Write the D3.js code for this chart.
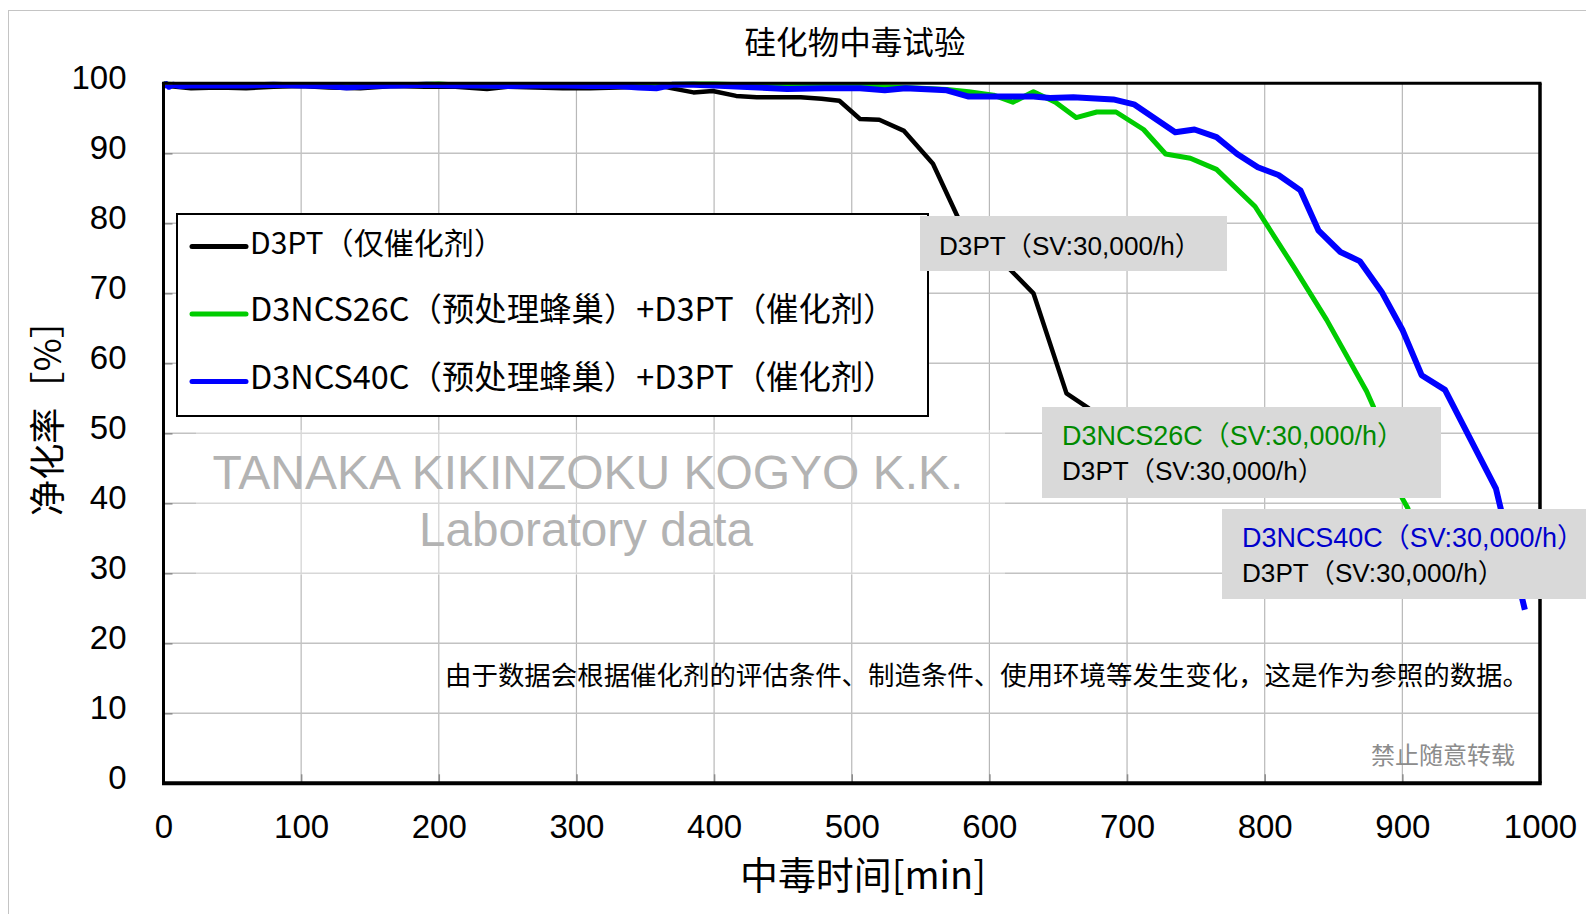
<!DOCTYPE html>
<html>
<head>
<meta charset="utf-8">
<script src="https://cdn.jsdelivr.net/npm/d3@7"></script>
<style>
  html, body { margin: 0; padding: 0; background: #fff; }
  svg { display: block; }
</style>
</head>
<body>
<svg id="chart" width="1586" height="914"></svg>
<script>
// ---------------- DATA ----------------
const chartTitle = "硅化物中毒试验";
const xAxisTitle = "中毒时间[min]";
const yAxisTitle = "净化率［%］";
const xTicks = [0, 100, 200, 300, 400, 500, 600, 700, 800, 900, 1000];
const yTicks = [0, 10, 20, 30, 40, 50, 60, 70, 80, 90, 100];

const seriesNames = [
  "D3PT（仅催化剂）",
  "D3NCS26C（预处理蜂巢）+D3PT（催化剂）",
  "D3NCS40C（预处理蜂巢）+D3PT（催化剂）"
];

// [time(min), purification rate(%)]
const d3ptOnly = [
  [0,99.7],[20,99.3],[40,99.4],[60,99.3],[80,99.5],[100,99.6],[120,99.4],[143,99.3],[167,99.6],
  [190,99.5],[212,99.5],[235,99.2],[250,99.5],[270,99.4],[290,99.3],[310,99.3],[330,99.4],
  [345,99.5],[361,99.6],[385,98.7],[399,98.9],[416,98.2],[431,98.0],[447,98.0],[463,98.0],
  [478,97.8],[491,97.5],[506,94.9],[520,94.8],[538,93.2],[559,88.5],[577,80.9],[595,77.4],
  [613,73.8],[632,70.0],[656,55.7],[672,53.6],[690,50.5],[708,46.5],[722,43.5]
];
const d3ncs26c = [
  [0,99.9],[20,99.7],[40,99.8],[60,99.7],[80,99.8],[100,99.8],[120,99.6],[140,99.8],[160,99.7],
  [180,99.8],[200,99.9],[220,99.7],[240,99.6],[260,99.7],[280,99.8],[300,99.7],[320,99.6],
  [340,99.7],[360,99.8],[385,99.9],[400,99.9],[420,99.8],[450,99.7],[480,99.6],[506,99.6],
  [524,99.5],[540,99.4],[569,99.1],[585,98.8],[603,98.3],[617,97.3],[632,98.8],[648,97.3],
  [663,95.1],[678,95.9],[692,95.9],[712,93.4],[728,89.9],[746,89.3],[765,87.7],[793,82.4],
  [821,73.8],[845,66.2],[874,56.0],[879,53.8],[890,47.0],[900,40.7],[904,39.3],[915,32.0],[925,28.0]
];
const d3ncs40c = [
  [0,99.6],[2,99.9],[4,99.5],[7,99.8],[12,99.6],[20,99.7],[40,99.7],[60,99.7],[80,99.8],[100,99.7],
  [120,99.6],[133,99.4],[150,99.6],[170,99.7],[191,99.8],[210,99.7],[230,99.7],[249,99.6],
  [270,99.7],[290,99.7],[310,99.6],[330,99.6],[345,99.4],[358,99.3],[370,99.8],[385,99.8],
  [400,99.7],[420,99.5],[453,99.2],[480,99.3],[506,99.3],[524,99.0],[539,99.3],[569,99.0],
  [585,98.1],[608,98.1],[632,98.1],[644,97.9],[661,98.0],[690,97.7],[705,97.0],[735,93.0],
  [749,93.4],[765,92.3],[780,89.9],[795,88.0],[810,86.9],[826,84.7],[839,79.0],[855,75.9],
  [869,74.6],[885,70.2],[900,64.8],[914,58.3],[931,56.2],[968,42.1],[989,24.8]
];

const labelBlack = "D3PT（SV:30,000/h）";
const labelGreen = "D3NCS26C（SV:30,000/h）";
const labelBlue = "D3NCS40C（SV:30,000/h）";
const watermark1 = "TANAKA KIKINZOKU KOGYO K.K.";
const watermark2 = "Laboratory data";
const noteText = "由于数据会根据催化剂的评估条件、制造条件、使用环境等发生变化，这是作为参照的数据。";
const copyText = "禁止随意转载";

// ---------------- STYLE / LAYOUT ----------------
const seriesColors = ["#000000", "#00cc00", "#0000ff"];
const seriesWidths = [4.5, 5, 6];
const CJK = "'Noto Sans CJK SC', 'Noto Sans', sans-serif";
const LAT = "'Liberation Sans', Arial, sans-serif";
const LATCJK = "'Liberation Sans', 'Noto Sans CJK SC', sans-serif";

const svg = d3.select("#chart");
const x = d3.scaleLinear().domain([0, 1000]).range([163.5, 1540]);
const y = d3.scaleLinear().domain([0, 100]).range([783.3, 83.3]);

function fitWidth(sel, target) {
  sel.each(function () {
    const w = this.getComputedTextLength();
    const fs = parseFloat(d3.select(this).attr("font-size"));
    if (w > 0) d3.select(this).attr("font-size", (fs * target / w).toFixed(2));
  });
  return sel;
}

// outer border
svg.append("rect").attr("x", 8.5).attr("y", 10.5).attr("width", 1700).attr("height", 1000)
  .attr("fill", "#fff").attr("stroke", "#c4c4c4").attr("stroke-width", 1);

// gridlines
const grid = svg.append("g");
grid.selectAll(".vg").data(xTicks.slice(1, -1)).join("line")
  .attr("x1", d => x(d)).attr("x2", d => x(d)).attr("y1", y(100)).attr("y2", y(0))
  .attr("stroke", "#b8b8b8").attr("stroke-width", 1.2);
grid.selectAll(".hg").data(yTicks.slice(1, -1)).join("line")
  .attr("x1", x(0)).attr("x2", x(1000)).attr("y1", d => y(d)).attr("y2", d => y(d))
  .attr("stroke", "#c2c2c2").attr("stroke-width", 1.6);

// watermark
svg.append("rect").attr("x", 196).attr("y", 430).attr("width", 809).attr("height", 145)
  .attr("fill", "#fff").attr("opacity", 0.35);
svg.append("text").text(watermark1).attr("x", 588).attr("y", 489)
  .attr("text-anchor", "middle").attr("font-family", LAT).attr("font-size", 48)
  .attr("fill", "#b3b3b3").call(fitWidth, 751);
svg.append("text").text(watermark2).attr("x", 586).attr("y", 546)
  .attr("text-anchor", "middle").attr("font-family", LAT).attr("font-size", 46)
  .attr("fill", "#b3b3b3").call(fitWidth, 334);

// curves
const line = d3.line().x(d => x(d[0])).y(d => y(d[1]));
const allSeries = [d3ptOnly, d3ncs26c, d3ncs40c];
svg.append("g").selectAll("path").data(allSeries).join("path")
  .attr("d", d => line(d)).attr("fill", "none")
  .attr("stroke", (d, i) => seriesColors[i]).attr("stroke-width", (d, i) => seriesWidths[i])
  .attr("stroke-linejoin", "round").attr("stroke-linecap", "butt");

// axes
const xAxis = svg.append("g").attr("transform", `translate(0,${y(0)})`)
  .call(d3.axisBottom(x).tickValues(xTicks).tickSize(-9).tickPadding(31).tickFormat(d3.format("d")));
const yAxis = svg.append("g").attr("transform", `translate(${x(0)},0)`)
  .call(d3.axisLeft(y).tickValues(yTicks).tickSize(-9).tickPadding(36).tickFormat(d3.format("d")));
[xAxis, yAxis].forEach(a => {
  a.select(".domain").remove();
  a.selectAll(".tick line").attr("stroke", "#8c8c8c").attr("stroke-width", 1.5);
  a.selectAll(".tick text").attr("font-family", LAT).attr("font-size", 33).attr("fill", "#000");
});
xAxis.selectAll(".tick text").attr("dy", "0.71em");
yAxis.selectAll(".tick text").attr("dy", "0.32em").attr("transform", "translate(-1,-5)");

// frame
svg.append("line").attr("x1", x(0)).attr("x2", x(1000) + 1.5).attr("y1", y(100)).attr("y2", y(100))
  .attr("stroke", "#000").attr("stroke-width", 3);
svg.append("line").attr("x1", x(1000)).attr("x2", x(1000)).attr("y1", y(100)).attr("y2", y(0))
  .attr("stroke", "#000").attr("stroke-width", 3.5);
svg.append("line").attr("x1", x(0)).attr("x2", x(0)).attr("y1", y(100) - 1.5).attr("y2", y(0))
  .attr("stroke", "#000").attr("stroke-width", 3);
svg.append("line").attr("x1", x(0) - 1.5).attr("x2", x(1000) + 1.75).attr("y1", y(0)).attr("y2", y(0))
  .attr("stroke", "#000").attr("stroke-width", 4);

// title & axis titles
svg.append("text").text(chartTitle).attr("x", 855).attr("y", 54)
  .attr("text-anchor", "middle").attr("font-family", CJK).attr("font-size", 30)
  .attr("fill", "#000").call(fitWidth, 221);
svg.append("text").text(xAxisTitle).attr("x", 863).attr("y", 889)
  .attr("text-anchor", "middle").attr("font-family", CJK).attr("font-size", 34)
  .attr("fill", "#000").call(fitWidth, 246);
svg.append("text").text(yAxisTitle)
  .attr("transform", "translate(61,409) rotate(-90)")
  .attr("text-anchor", "middle").attr("font-family", CJK).attr("font-size", 33)
  .attr("fill", "#000").call(fitWidth, 214);

// legend
const lg = svg.append("g");
lg.append("rect").attr("x", 177).attr("y", 214).attr("width", 751).attr("height", 202)
  .attr("fill", "#fff").attr("stroke", "#000").attr("stroke-width", 2);
const legY = [246.5, 314, 381.5];
const legW = [254, 646, 646];
seriesNames.forEach((nm, i) => {
  lg.append("line").attr("x1", 192).attr("x2", 246).attr("y1", legY[i]).attr("y2", legY[i])
    .attr("stroke", seriesColors[i]).attr("stroke-width", 5).attr("stroke-linecap", "round");
  lg.append("text").text(nm).attr("x", 250).attr("y", legY[i] + 7)
    .attr("font-family", CJK).attr("font-size", 31).attr("fill", "#000").call(fitWidth, legW[i]);
});

// annotation boxes
const boxFill = "#d9d9d9";
function addBox(bx, by, bw, bh, tx, ty, lines) {
  svg.append("rect").attr("x", bx).attr("y", by).attr("width", bw).attr("height", bh).attr("fill", boxFill);
  lines.forEach((l, i) => {
    svg.append("text").text(l.t).attr("x", tx).attr("y", ty + i * 35)
      .attr("font-family", LATCJK).attr("font-size", 28).attr("fill", l.c).call(fitWidth, l.w);
  });
}
addBox(920, 216, 307, 55, 939, 255, [{t: labelBlack, c: "#000", w: 262}]);
addBox(1042, 407, 399, 91, 1062, 445, [
  {t: labelGreen, c: "#008a00", w: 342},
  {t: labelBlack, c: "#000", w: 262}
]);
addBox(1222, 509, 400, 90, 1242, 546.5, [
  {t: labelBlue, c: "#0000cc", w: 342},
  {t: labelBlack, c: "#000", w: 262}
]);

// notes
svg.append("text").text(noteText).attr("x", 1529).attr("y", 685)
  .attr("text-anchor", "end").attr("font-family", CJK).attr("font-size", 26)
  .attr("fill", "#000").call(fitWidth, 1084);
svg.append("text").text(copyText).attr("x", 1515).attr("y", 764)
  .attr("text-anchor", "end").attr("font-family", CJK).attr("font-size", 23)
  .attr("fill", "#8c8c8c").call(fitWidth, 144);
</script>
</body>
</html>
